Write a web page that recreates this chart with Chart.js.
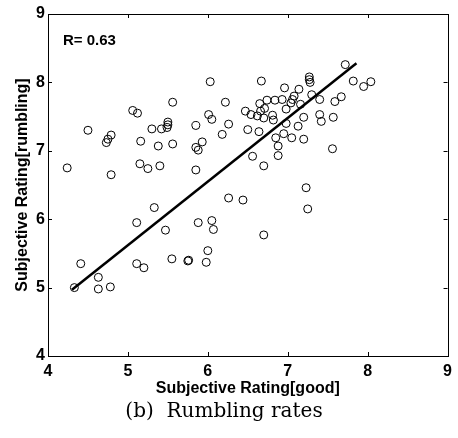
<!DOCTYPE html>
<html>
<head>
<meta charset="utf-8">
<script src="https://cdn.jsdelivr.net/npm/chart.js@4.4.0/dist/chart.umd.min.js"></script>
<style>
body { margin: 0; background: #fff; }
</style>
</head>
<body>
<canvas id="scatterChart" width="458" height="438"></canvas>
<script>
// subjective rating [good] (x) vs [rumbling] (y)
var ratingGood = [
    4.24, 4.50, 4.79, 4.75, 4.73, 4.79, 5.06, 5.12, 5.16, 5.15,
    5.25, 5.30, 5.42, 5.38, 5.40, 5.50, 5.50, 5.49, 5.56, 5.56,
    5.85, 5.93, 5.85, 5.88, 5.85, 6.03, 6.01, 6.05, 6.22, 6.26, 6.18,
    4.33, 4.41, 4.63, 4.63, 4.78, 5.11, 5.33, 5.47, 5.11, 5.20,
    5.55, 5.75, 5.76, 5.88, 6.05, 6.07, 6.00, 5.98, 6.26, 6.44, 6.70, 7.23, 7.25,
    6.47, 6.54, 6.62, 6.70, 6.65, 6.71, 6.66, 6.50, 6.64, 6.56, 6.70, 6.67, 6.81, 6.82,
    7.27, 7.27, 7.28, 6.96, 7.14, 7.30, 7.08, 7.06, 6.93, 6.84, 6.74, 7.40,
    7.04, 7.16, 6.98, 7.20, 7.40, 7.42, 7.57, 6.98, 7.13, 6.95, 6.85, 7.05, 7.20,
    6.88, 7.56, 6.88, 7.72, 7.82, 7.95, 8.04, 7.67, 7.59
];
var ratingRumbling = [
    6.75, 7.30, 7.23, 7.17, 7.12, 6.65, 7.59, 7.55, 7.14, 6.81,
    6.74, 7.32, 7.32, 7.07, 6.78, 7.42, 7.38, 7.34, 7.71, 7.10,
    7.37, 7.13, 7.05, 7.01, 6.72, 8.01, 7.53, 7.46, 7.71, 7.39, 7.24,
    5.00, 5.35, 5.15, 4.98, 5.01, 5.95, 6.17, 5.84, 5.35, 5.29,
    5.42, 5.39, 5.40, 5.95, 5.98, 5.85, 5.54, 5.37, 6.31, 6.28, 5.77, 6.46, 6.15,
    7.58, 7.53, 7.51, 7.48, 7.69, 7.62, 7.58, 7.31, 7.28, 6.92, 6.78, 8.02, 7.52, 7.45,
    8.08, 8.04, 8.00, 7.92, 7.90, 7.82, 7.80, 7.75, 7.75, 7.74, 7.74, 7.75,
    7.70, 7.68, 7.61, 7.49, 7.53, 7.43, 7.49, 7.40, 7.36, 7.25, 7.19, 7.19, 7.17,
    7.07, 7.03, 6.93, 8.26, 8.02, 7.94, 8.01, 7.79, 7.72
];

// regression line end points
var fitGood = [4.30, 7.86];
var fitRumbling = [4.97, 8.28];

var tickValues = [4, 5, 6, 7, 8, 9];
var rLabel = 'R= 0.63';

var puntos = [];
for (var i = 0; i < ratingGood.length; i++) {
    puntos.push({ x: ratingGood[i], y: ratingRumbling[i] });
}
var recta = [];
for (var j = 0; j < fitGood.length; j++) {
    recta.push({ x: fitGood[j], y: fitRumbling[j] });
}

// box round the plot, ticks pointing inwards, R label
var marco = {
    id: 'marco',
    afterDraw: function(chart) {
        var ctx = chart.ctx;
        var a = chart.chartArea;
        var xs = chart.scales.x, ys = chart.scales.y;
        ctx.save();
        ctx.strokeStyle = '#000';
        ctx.lineWidth = 1;
        ctx.strokeRect(Math.round(a.left) + 0.5, Math.round(a.top) + 0.5,
            Math.round(a.right - a.left), Math.round(a.bottom - a.top));
        ctx.beginPath();
        tickValues.forEach(function(v) {
            var px = Math.round(xs.getPixelForValue(v)) + 0.5;
            ctx.moveTo(px, a.bottom); ctx.lineTo(px, a.bottom - 4);
            ctx.moveTo(px, a.top); ctx.lineTo(px, a.top + 4);
            var py = Math.round(ys.getPixelForValue(v)) + 0.5;
            ctx.moveTo(a.left, py); ctx.lineTo(a.left + 4, py);
            ctx.moveTo(a.right, py); ctx.lineTo(a.right - 4, py);
        });
        ctx.stroke();
        ctx.font = 'bold 15px "Liberation Sans", Arial, sans-serif';
        ctx.fillStyle = '#000';
        ctx.textBaseline = 'middle';
        ctx.fillText(rLabel, a.left + 15, a.top + 27);
        ctx.restore();
    }
};

var fuente = { family: '"Liberation Sans", Arial, sans-serif', size: 16, weight: 'bold' };

new Chart(document.getElementById('scatterChart').getContext('2d'), {
    type: 'scatter',
    data: {
        datasets: [
            {
                data: puntos,
                pointRadius: 4,
                pointBorderWidth: 1,
                borderColor: '#000',
                backgroundColor: 'rgba(0,0,0,0)'
            },
            {
                data: recta,
                showLine: true,
                borderColor: '#000',
                borderWidth: 2.5,
                pointRadius: 0
            }
        ]
    },
    options: {
        responsive: false,
        animation: false,
        layout: { padding: { top: 14, right: 10, left: 0, bottom: 0 } },
        plugins: {
            legend: { display: false },
            tooltip: { enabled: false },
            title: {
                display: true,
                position: 'bottom',
                text: '(b)  Rumbling rates',
                color: '#000',
                font: { family: '"DejaVu Serif", "Liberation Serif", serif', size: 20, weight: 'normal' },
                padding: { top: 0, bottom: 14 }
            }
        },
        scales: {
            x: {
                type: 'linear',
                min: 4, max: 9,
                afterFit: function(s) { s.height = 44; },
                ticks: { stepSize: 1, color: '#000', font: fuente, padding: 6 },
                grid: { display: false, drawTicks: false },
                border: { color: '#000' },
                title: { display: true, text: 'Subjective Rating[good]', color: '#000', font: fuente, padding: { top: 0, bottom: 2 } }
            },
            y: {
                type: 'linear',
                min: 4, max: 9,
                afterFit: function(s) { s.width = 48; },
                ticks: { stepSize: 1, color: '#000', font: fuente, padding: 3 },
                grid: { display: false, drawTicks: false },
                border: { color: '#000' },
                title: { display: true, text: 'Subjective Rating[rumbling]', color: '#000', font: fuente, padding: { top: 13, bottom: 2 } }
            }
        }
    },
    plugins: [marco]
});
</script>
</body>
</html>
